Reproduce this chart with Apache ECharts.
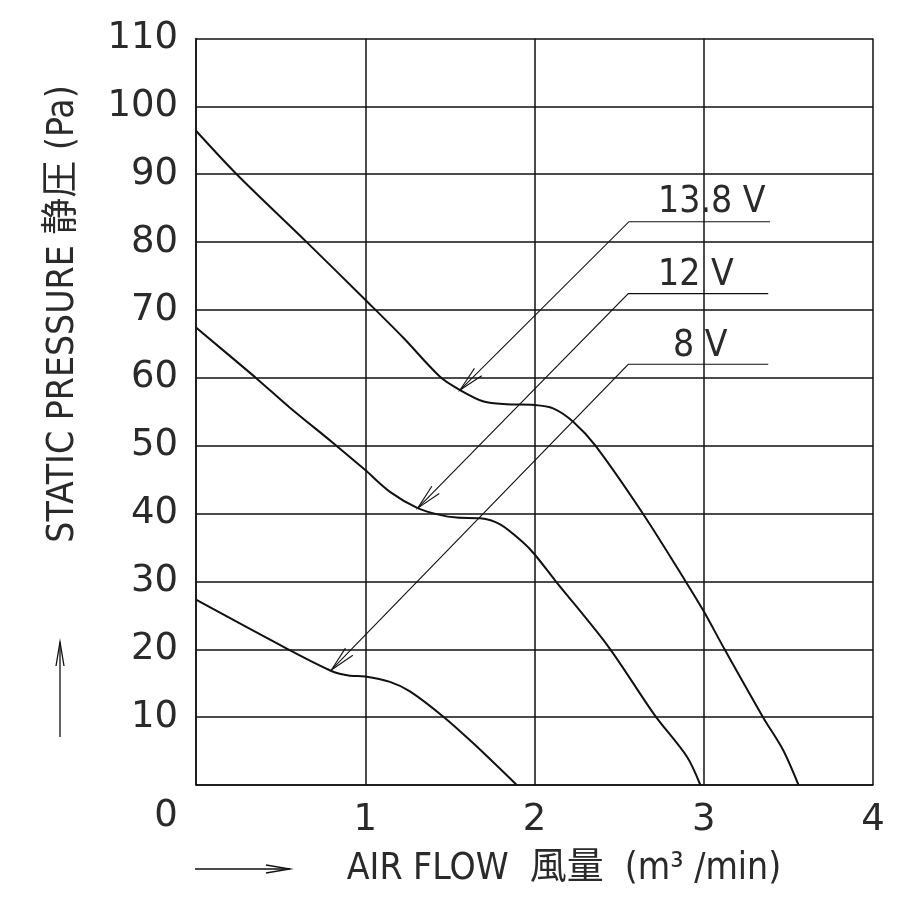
<!DOCTYPE html>
<html>
<head>
<meta charset="utf-8">
<script src="https://cdn.jsdelivr.net/npm/echarts@6/dist/echarts.min.js"></script>
<style>
html,body{margin:0;padding:0;background:#fff;}
#chart{width:914px;height:898px;}
</style>
</head>
<body>
<div id="chart"></div>
<script>
// ---- data ----
const flow138 = [0, 0.24, 0.654, 1.0, 1.225, 1.44, 1.56, 1.70, 1.835, 2.0, 2.11, 2.23, 2.36, 2.64, 2.893, 3.0, 3.123, 3.35, 3.468, 3.56];
const pres138 = [96.4, 90, 80, 71.5, 65.9, 60.2, 58.2, 56.5, 56.1, 56.0, 55.5, 53.5, 50, 40, 30, 25.6, 20, 10, 5.2, 0];
const flow12 = [0, 0.349, 0.555, 0.81, 1.0, 1.146, 1.31, 1.44, 1.54, 1.68, 1.797, 1.93, 2.0, 2.12, 2.436, 2.71, 2.90, 2.98];
const pres12 = [67.4, 60.1, 55.6, 50.4, 46.4, 43.2, 40.8, 39.8, 39.4, 39.3, 38.4, 35.8, 34.0, 30.2, 20.4, 10.3, 4.2, 0];
const flow8 = [0, 0.536, 0.80, 0.91, 1.0, 1.146, 1.264, 1.46, 1.64, 1.895];
const pres8 = [27.3, 20.1, 16.8, 16.1, 16.0, 15.2, 13.8, 10.1, 6.1, 0];

const voltageLabels = ['13.8 V', '12 V', '8 V'];
const xTicks = [0, 1, 2, 3, 4];
const yTicks = [0, 10, 20, 30, 40, 50, 60, 70, 80, 90, 100, 110];
const xTitle = 'AIR FLOW  風量  (m³ /min)';
const yTitle = 'STATIC PRESSURE 静圧 (Pa)';

// annotation anchors (data space): arrow tip on curve, leader start, leader end, label position
const arrowTips = [[1.56, 58.2], [1.31, 40.8], [0.80, 16.95]];
const leaderStarts = [[2.558, 83.0], [2.554, 72.4], [2.554, 62.0]];
const leaderEndX = [3.391, 3.381, 3.381];
const labelPos = [[2.73, 85.8], [2.73, 75.1], [2.818, 64.6]];

const zip = (xs, ys) => xs.map((x, i) => [x, ys[i]]);

const FONT_NUM = "'DejaVu Sans', 'Noto Sans CJK JP', sans-serif";
const FONT_TXT = "'DejaVu Sans Condensed', 'Liberation Sans Narrow', 'DejaVu Sans', 'Noto Sans CJK JP', sans-serif";
const INK = '#111';
const TXT = '#2a2a2a';

const chart = echarts.init(document.getElementById('chart'), null, {renderer: 'canvas'});

const annData = arrowTips.map((t, i) => [t[0], t[1], leaderStarts[i][0], leaderStarts[i][1], leaderEndX[i], labelPos[i][0], labelPos[i][1]]);

function curve(name, data) {
  return {
    name, type: 'line', data, smooth: 0.3, showSymbol: false, symbol: 'none',
    lineStyle: {color: INK, width: 2}, z: 3, silent: true
  };
}

const option = {
  animation: false,
  backgroundColor: '#fff',
  grid: {left: 196, top: 38.5, right: 41, bottom: 113, containLabel: false},
  xAxis: {
    type: 'value', min: 0, max: 4, interval: 1,
    axisLine: {show: true, lineStyle: {color: INK, width: 1.5}},
    axisTick: {show: false},
    splitLine: {show: true, lineStyle: {color: INK, width: 1.5}},
    axisLabel: {
      show: true, showMinLabel: false, margin: 17, color: TXT,
      fontFamily: FONT_NUM, fontSize: 37,
      formatter: v => xTicks.includes(v) ? String(v) : ''
    }
  },
  yAxis: {
    type: 'value', min: 0, max: 110, interval: 10,
    axisLine: {show: true, lineStyle: {color: INK, width: 1.5}},
    axisTick: {show: false},
    splitLine: {show: true, lineStyle: {color: INK, width: 1.5}},
    axisLabel: {
      show: true, showMinLabel: false, margin: 18, color: TXT,
      fontFamily: FONT_NUM, fontSize: 37, padding: [0, 0, 16, 0],
      formatter: v => yTicks.includes(v) ? String(v) : ''
    }
  },
  series: [
    curve('13.8 V', zip(flow138, pres138)),
    curve('12 V', zip(flow12, pres12)),
    curve('8 V', zip(flow8, pres8)),
    {
      type: 'custom', name: 'labels', data: annData, clip: false, silent: true, z: 4,
      renderItem: function (params, api) {
        const i = params.dataIndex;
        const tip = api.coord([api.value(0), api.value(1)]);
        const st = api.coord([api.value(2), api.value(3)]);
        const en = api.coord([api.value(4), api.value(3)]);
        const tp = api.coord([api.value(5), api.value(6)]);
        const dx = st[0] - tip[0], dy = st[1] - tip[1];
        const L = Math.hypot(dx, dy), ux = dx / L, uy = dy / L;
        const len = 26, a = 0.2, c = Math.cos(a), s = Math.sin(a);
        const b1 = [tip[0] + len * (ux * c - uy * s), tip[1] + len * (ux * s + uy * c)];
        const b2 = [tip[0] + len * (ux * c + uy * s), tip[1] + len * (-ux * s + uy * c)];
        return {
          type: 'group',
          children: [
            {type: 'polyline', shape: {points: [tip, st, en]}, style: {stroke: INK, lineWidth: 1.1, fill: null}},
            {type: 'polyline', shape: {points: [b1, tip, b2]}, style: {stroke: INK, lineWidth: 1.1, fill: null}},
            {type: 'text', x: tp[0], y: tp[1], style: {
              text: voltageLabels[i], fill: TXT, font: "37px " + FONT_TXT,
              align: 'left', verticalAlign: 'middle'
            }}
          ]
        };
      }
    }
  ]
};
chart.setOption(option);

// origin label, axis titles and direction arrows
const o = chart.convertToPixel({gridIndex: 0}, [0, 0]);
chart.setOption({
  graphic: [
    {type: 'text', x: o[0] - 30, y: o[1] + 31, style: {text: String(xTicks[0]), font: "37px " + FONT_NUM, fill: TXT, align: 'center', verticalAlign: 'middle'}},
    {type: 'text', x: 564, y: 869, style: {text: xTitle, font: "37px " + FONT_TXT, fill: TXT, align: 'center', verticalAlign: 'middle'}},
    {type: 'text', x: 63, y: 314, rotation: Math.PI / 2, style: {text: yTitle, font: "37px " + FONT_TXT, fill: TXT, align: 'center', verticalAlign: 'middle'}},
    {type: 'polyline', shape: {points: [[195, 869], [290, 869]]}, style: {stroke: INK, lineWidth: 1.3, fill: null}},
    {type: 'polyline', shape: {points: [[266, 865], [290, 869], [266, 873]]}, style: {stroke: INK, lineWidth: 1.3, fill: null}},
    {type: 'polyline', shape: {points: [[60, 737], [60, 642]]}, style: {stroke: INK, lineWidth: 1.3, fill: null}},
    {type: 'polyline', shape: {points: [[56, 666], [60, 642], [64, 666]]}, style: {stroke: INK, lineWidth: 1.3, fill: null}}
  ]
});
</script>
</body>
</html>
